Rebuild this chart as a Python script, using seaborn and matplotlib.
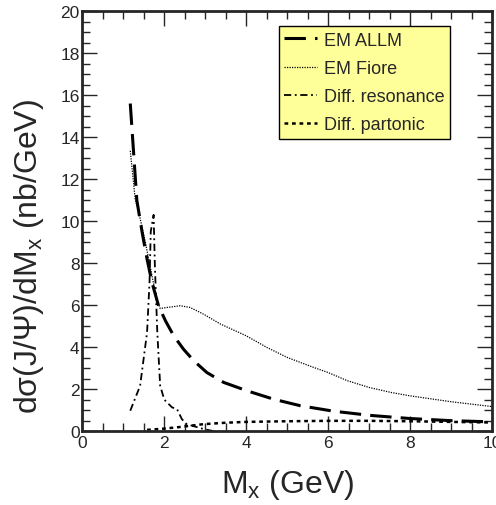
import matplotlib
matplotlib.use("Agg")
import matplotlib.pyplot as plt
from matplotlib.ticker import MultipleLocator
import seaborn as sns
import pandas as pd

# ---- data ----
allm_x = [1.17, 1.33, 1.46, 1.58, 1.70, 1.86, 2.03, 2.23, 2.47, 2.72, 3.04, 3.45, 4.02,
          4.67, 5.32, 6.13, 7.02, 8.0, 8.98, 10.0]
allm_y = [15.6, 11.0, 9.46, 8.19, 7.08, 5.97, 5.25, 4.54, 3.9, 3.35, 2.79, 2.32, 1.92,
          1.52, 1.21, 0.95, 0.75, 0.6, 0.5, 0.44]

fiore_x = [1.17, 1.29, 1.38, 1.54, 1.62, 1.72, 1.81, 1.90, 2.07, 2.39, 2.63, 2.96, 3.37,
           4.0, 4.51, 5.0, 5.65, 6.0, 6.47, 7.0, 7.54, 8.0, 9.0, 10.0]
fiore_y = [13.35, 11.05, 10.4, 8.98, 8.19, 7.2, 6.29, 5.84, 5.89, 5.97, 5.89, 5.57, 5.1,
           4.54, 3.98, 3.51, 3.03, 2.79, 2.4, 2.08, 1.84, 1.68, 1.40, 1.17]

res_x = [1.17, 1.41, 1.58, 1.64, 1.67, 1.74, 1.77, 1.83, 1.90, 2.0, 2.19, 2.31, 2.43,
         2.55, 2.96, 3.2]
res_y = [0.97, 2.16, 4.7, 7.1, 9.5, 10.3, 7.9, 4.7, 2.16, 1.5, 1.13, 1.05, 0.57,
         0.33, 0.1, 0.0]

part_x = [1.58, 2.0, 2.4, 2.95, 3.5, 4.0, 5.0, 6.0, 7.0, 8.0, 9.0, 10.0]
part_y = [0.06, 0.12, 0.2, 0.33, 0.4, 0.44, 0.47, 0.49, 0.49, 0.47, 0.44, 0.41]

labels = ["EM ALLM", "EM Fiore", "Diff. resonance", "Diff. partonic"]

# ---- style ----
sns.set_style("ticks")
plt.rcParams["font.family"] = ["Liberation Sans", "DejaVu Sans"]
plt.rcParams["mathtext.fontset"] = "custom"
plt.rcParams["mathtext.rm"] = "Liberation Sans"
plt.rcParams["mathtext.it"] = "Liberation Sans"

fig = plt.figure(figsize=(4.96, 5.06), dpi=100)
ax = fig.add_axes([0.166, 0.146, 0.826, 0.83])

series = [
    (allm_x, allm_y, labels[0], dict(lw=2.2, linestyle=(0, (7, 3)))),
    (fiore_x, fiore_y, labels[1], dict(lw=0.9, linestyle=(0, (1, 1)))),
    (res_x, res_y, labels[2], dict(lw=1.3, linestyle=(0, (4, 2, 1, 2)))),
    (part_x, part_y, labels[3], dict(lw=1.8, linestyle=(0, (1.5, 1.5)))),
]
for xs, ys, lab, kw in series:
    df = pd.DataFrame({"x": xs, "y": ys})
    sns.lineplot(data=df, x="x", y="y", ax=ax, color="black", label=lab,
                 estimator=None, sort=False, **kw)

ax.set_xlim(0, 10)
ax.set_ylim(0, 20)
ax.xaxis.set_major_locator(MultipleLocator(2))
ax.xaxis.set_minor_locator(MultipleLocator(0.5))
ax.yaxis.set_major_locator(MultipleLocator(2))
ax.yaxis.set_minor_locator(MultipleLocator(0.5))
ax.tick_params(which="both", direction="in", top=True, right=True, width=1,
               labelsize=12.5)
ax.tick_params(axis="x", which="both", pad=3)
ax.tick_params(axis="y", which="both", pad=2)
ax.tick_params(which="major", length=11)
ax.tick_params(which="minor", length=6)
for s in ax.spines.values():
    s.set_linewidth(2)

ax.set_xlabel("M$_{\\mathrm{x}}$ (GeV)", fontsize=23, labelpad=12)
ax.set_ylabel("dσ(J/Ψ)/dM$_{\\mathrm{x}}$ (nb/GeV)", fontsize=23)
ax.yaxis.set_label_coords(-0.088, 0.417)

leg = ax.legend(loc="upper right", bbox_to_anchor=(0.898, 0.964), fontsize=13,
                frameon=True, fancybox=False, framealpha=1, handlelength=1.8,
                handletextpad=0.4, labelspacing=0.62, borderpad=0.3,
                borderaxespad=0)
leg.get_frame().set_facecolor("#ffff99")
leg.get_frame().set_edgecolor("black")
leg.get_frame().set_linewidth(1)

fig.savefig("out.png", dpi=100)
